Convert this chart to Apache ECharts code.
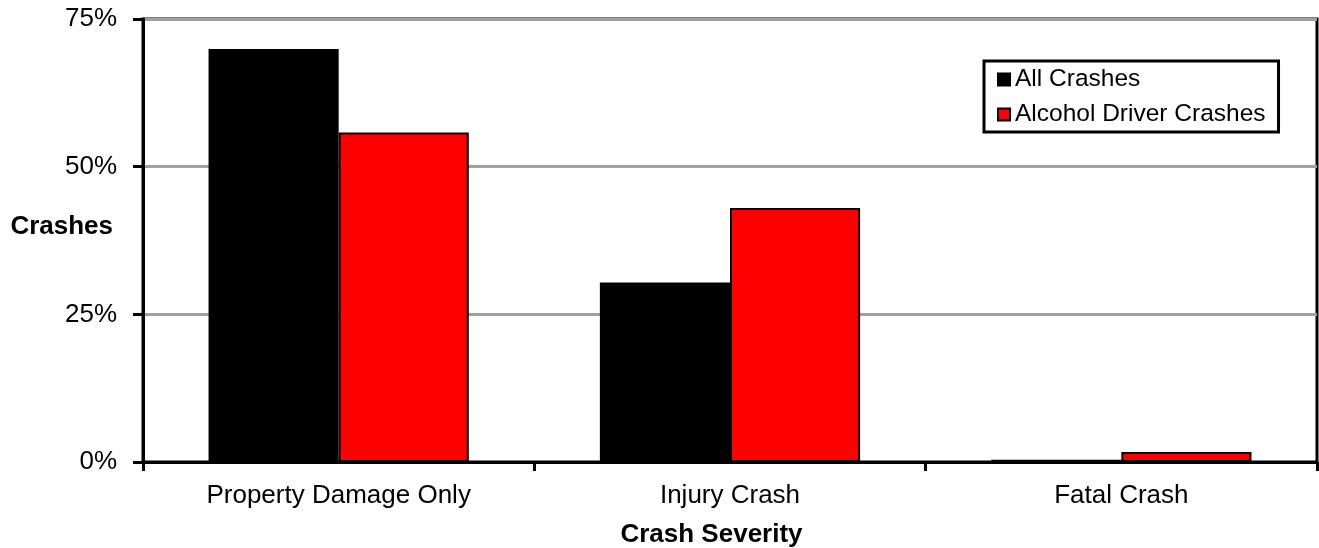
<!DOCTYPE html>
<html>
<head>
<meta charset="utf-8">
<script src="https://cdn.jsdelivr.net/npm/echarts@6/dist/echarts.min.js"></script>
<style>
html,body{margin:0;padding:0;background:#fff;}
#chart{width:1319px;height:548px;}
</style>
</head>
<body>
<div id="chart"></div>
<script>
var categories = ['Property Damage Only', 'Injury Crash', 'Fatal Crash'];
var allCrashes = [69.9, 30.4, 0.4];
var alcoholCrashes = [55.8, 43.0, 1.7];
var seriesNames = ['All Crashes', 'Alcohol Driver Crashes'];
var yTicks = [0, 25, 50, 75];

var FONT = '"Liberation Sans", Arial, sans-serif';
var chart = echarts.init(document.getElementById('chart'));
chart.setOption({
  animation: false,
  backgroundColor: '#ffffff',
  textStyle: { fontFamily: FONT },
  grid: {
    left: 143, right: 2, top: 19, bottom: 86,
    containLabel: false, outerBoundsMode: 'none',
    show: true, borderColor: '#000', borderWidth: 3, backgroundColor: 'transparent'
  },
  legend: {
    orient: 'vertical',
    left: 984, top: 61,
    padding: [6, 13, 5, 13],
    borderColor: '#000', borderWidth: 3,
    backgroundColor: '#fff',
    itemWidth: 12, itemHeight: 12, itemGap: 10,
    icon: 'rect',
    textStyle: { fontSize: 24.5, color: '#000', fontFamily: FONT },
    data: [
      { name: seriesNames[0], itemStyle: { color: '#000', borderColor: '#000', borderWidth: 2 } },
      { name: seriesNames[1], itemStyle: { color: '#ff0000', borderColor: '#000', borderWidth: 2 } }
    ]
  },
  xAxis: {
    type: 'category',
    data: categories,
    name: 'Crash Severity',
    nameLocation: 'middle',
    nameGap: 60,
    nameMoveOverlap: false,
    nameTextStyle: { fontSize: 26, fontWeight: 'bold', color: '#000', padding: [0, 37, 0, 0], fontFamily: FONT },
    axisLine: { lineStyle: { color: '#000', width: 3 } },
    axisTick: { show: true, length: 9, lineStyle: { color: '#000', width: 3 } },
    axisLabel: { fontSize: 26, color: '#000', margin: 21, fontFamily: FONT },
    splitLine: { show: false }
  },
  yAxis: {
    type: 'value',
    min: yTicks[0], max: yTicks[yTicks.length - 1], interval: 25,
    name: 'Crashes',
    nameLocation: 'middle',
    nameRotate: 0,
    nameGap: 30,
    nameMoveOverlap: false,
    nameTextStyle: { fontSize: 26, fontWeight: 'bold', color: '#000', verticalAlign: 'bottom', padding: [0, 0, 1, 0], fontFamily: FONT },
    axisLine: { show: true, lineStyle: { color: '#000', width: 3 } },
    axisTick: { show: true, length: 10, lineStyle: { color: '#000', width: 3 } },
    axisLabel: { fontSize: 26, color: '#000', margin: 26, formatter: '{value}%', fontFamily: FONT },
    splitLine: { show: true, lineStyle: { color: '#a0a0a0', width: 3 } }
  },
  series: [
    {
      name: seriesNames[0], type: 'bar', data: allCrashes,
      barGap: '0%', barCategoryGap: '33.5%',
      itemStyle: { color: '#000000', borderColor: '#000', borderWidth: 2 }
    },
    {
      name: seriesNames[1], type: 'bar', data: alcoholCrashes,
      barGap: '0%', barCategoryGap: '33.5%',
      itemStyle: { color: '#ff0000', borderColor: '#000', borderWidth: 2 }
    }
  ]
});
</script>
</body>
</html>
